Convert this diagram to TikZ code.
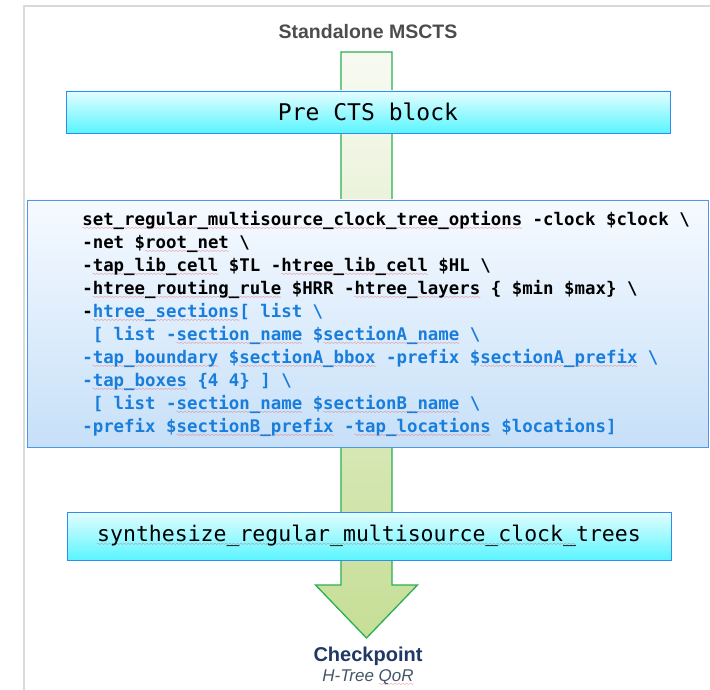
\documentclass[tikz,border=0pt]{standalone}
\usepackage{fontspec}
\setmainfont{Liberation Sans}
\newfontfamily\codefont{DejaVu Sans Mono}
\usetikzlibrary{positioning, calc}

\definecolor{codeblue}{RGB}{25,125,220}
\definecolor{squig}{RGB}{230,50,50}
\definecolor{navy}{RGB}{32,56,100}
\definecolor{slate}{RGB}{68,84,106}
\definecolor{arrowline}{RGB}{40,176,80}

% small red wavy underline
\font\wavefont=lasy6 at 4.5pt
\newcommand{\sq}[1]{\setbox0=\hbox{#1}\rlap{\lower4pt\hbox to\wd0{\color{squig}\wavefont\xleaders\hbox{\char58}\hfil}}\box0\relax}

\tikzstyle{title} = [font=\fontsize{19.5}{21}\selectfont\bfseries, text=black!70]
\tikzstyle{cmdbox} = [rectangle, text centered, draw={rgb,255:red,50;green,140;blue,240}, thick, top color={rgb,255:red,228;green,253;blue,255}, bottom color={rgb,255:red,90;green,245;blue,255}, minimum width=604pt]
\tikzstyle{codebox} = [rectangle, draw={rgb,255:red,80;green,150;blue,230}, thick, top color={rgb,255:red,246;green,250;blue,255}, bottom color={rgb,255:red,198;green,224;blue,248}, minimum width=681pt, minimum height=247pt]
\tikzstyle{code} = [inner sep=0pt, align=left, font=\codefont\bfseries\fontsize{17.4}{23}\selectfont]
\tikzstyle{bigarrow} = [draw=arrowline, line width=1.3pt, top color={rgb,255:red,248;green,250;blue,242}, bottom color={rgb,255:red,198;green,222;blue,150}]

\begin{document}
\begin{tikzpicture}[x=1pt, y=1pt, node distance=80pt]
\useasboundingbox (0,0) rectangle (710,-690);
\draw [black!15, line width=1.5pt] (24,-700) -- (24,-6) -- (720,-6);

\node (title) [title] at (368,-32) {Standalone MSCTS};

\coordinate (top) at (366.5,-52);
\coordinate (tip) at (366.5,-638);
\draw [bigarrow] ([xshift=-25.5pt]top) -- ([xshift=25.5pt]top) -- ([xshift=25.5pt,yshift=53pt]tip) -- ([xshift=51pt,yshift=53pt]tip) -- (tip) -- ([xshift=-51pt,yshift=53pt]tip) -- ([xshift=-25.5pt,yshift=53pt]tip) -- cycle;

\node (pre) [cmdbox, minimum height=42pt, font=\codefont\fontsize{23}{25}\selectfont, below of=title] {Pre CTS block};
\node (codeblock) [codebox, below of=pre, yshift=-131.5pt] {};
\node (codetext) [code, anchor=west] at ([xshift=55pt]codeblock.west) {\sq{set\_regular\_multisource\_clock\_tree\_options} -clock \$clock \textbackslash\\
-net \$\sq{root\_net} \textbackslash\\
-\sq{tap\_lib\_cell} \$TL -\sq{htree\_lib\_cell} \$HL \textbackslash\\
-\sq{htree\_routing\_rule} \$HRR -\sq{htree\_layers} \{ \$min \$max\} \textbackslash\\
-{\color{codeblue}\sq{htree\_sections}[ list \textbackslash}\\
\color{codeblue}~[ list -\sq{section\_name} \$\sq{sectionA\_name} \textbackslash\\
\color{codeblue}-\sq{tap\_boundary} \$\sq{sectionA\_bbox} -prefix \$\sq{sectionA\_prefix} \textbackslash\\
\color{codeblue}-\sq{tap\_boxes} \{4 4\} ] \textbackslash\\
\color{codeblue}~[ list -\sq{section\_name} \$\sq{sectionB\_name} \textbackslash\\
\color{codeblue}-prefix \$\sq{sectionB\_prefix} -\sq{tap\_locations} \$locations]};
\node (synth) [cmdbox, minimum height=48pt, font=\codefont\fontsize{21.5}{24}\selectfont, below of=codeblock, yshift=-132.5pt, xshift=1pt] {\sq{synthesize\_regular\_multisource\_clock\_}trees};

\node (check) [font=\fontsize{20}{22}\selectfont\bfseries, text=navy, below of=synth, yshift=-40pt, xshift=-1pt] {Checkpoint};
\node (qor) [font=\fontsize{17}{19}\selectfont\itshape, text=slate, below=1pt of check, inner sep=0pt] {H-Tree \sq{QoR}};

\end{tikzpicture}
\end{document}
